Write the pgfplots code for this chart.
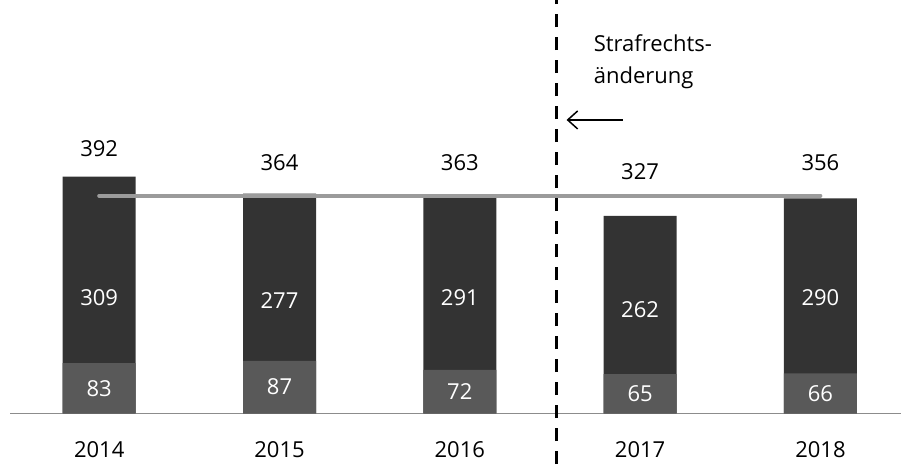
\documentclass[border=0pt]{standalone}
\usepackage{fontspec}
\setmainfont{Open Sans}
\usepackage{pgfplots}
\pgfplotsset{compat=1.18}
\usetikzlibrary{arrows.meta}
\definecolor{darkbar}{HTML}{333333}
\definecolor{lightbar}{HTML}{595959}
\definecolor{avgline}{HTML}{9B9B9B}
\definecolor{baseln}{HTML}{8C8C8C}
\begin{document}
\begin{tikzpicture}[font=\fontsize{22}{26}\selectfont]
\begin{axis}[
  scale only axis, width=891pt, height=413.3pt,
  xmin=-0.4947, xmax=4.447, ymin=0, ymax=684.7,
  axis y line=none, axis x line*=bottom,
  x axis line style={baseln, line width=1pt, -},
  xtick={0,1,2,3,4}, xticklabels={2014,2015,2016,2017,2018},
  major tick length=0pt,
  xticklabel style={anchor=center, yshift=-36.7pt, text=black},
  clip=false,
]
% totals (dark part visible above the lower segment)
\addplot[ybar, bar width=73pt, bar shift=0pt, fill=darkbar, draw=none]
  coordinates {(0,392) (1,364) (2,363) (3,327) (4,356)};
% lower segment
\addplot[ybar, bar width=73pt, bar shift=0pt, fill=lightbar, draw=none]
  coordinates {(0,83) (1,87) (2,72) (3,65) (4,66)};
% average line
\addplot[avgline, line width=4pt, line cap=round, mark=none]
  coordinates {(0,360.4) (4,360.4)};
% labels of totals
\addplot[draw=none, mark=none, nodes near coords, point meta=explicit symbolic,
  every node near coord/.append style={anchor=center, text=black, inner sep=0pt}]
  table[meta=lab] {
x y lab
0 437.9 392
1 415 364
2 415 363
3 399.8 327
4 415 356
};
% labels of upper segments
\addplot[draw=none, mark=none, nodes near coords, point meta=explicit symbolic,
  every node near coord/.append style={anchor=center, text=white, inner sep=0pt}]
  table[meta=lab] {
x y lab
0 191 309
1 186 277
2 191 291
3 171 262
4 191 290
};
% labels of lower segments
\addplot[draw=none, mark=none, nodes near coords, point meta=explicit symbolic,
  every node near coord/.append style={anchor=center, text=white, inner sep=0pt}]
  table[meta=lab] {
x y lab
0 41.5 83
1 43.5 87
2 36 72
3 32.5 65
4 33 66
};
% dashed separator
\addplot[black, line width=3pt, dash pattern=on 13pt off 10pt, mark=none]
  coordinates {(2.534,-84) (2.534,684.7)};
\draw[line width=1.5pt, -{Straight Barb[length=10pt, width=18pt]}]
  (axis cs:2.904,486) -- (axis cs:2.592,486);
\node[anchor=base west, inner sep=0pt] at (axis cs:2.742,598.6) {Strafrechts-};
\node[anchor=base west, inner sep=0pt] at (axis cs:2.742,545.6) {änderung};
\coordinate (ll) at (rel axis cs:0,0);
\coordinate (ur) at (rel axis cs:1,1);
\end{axis}
\pgfresetboundingbox
\useasboundingbox ([xshift=-10pt,yshift=-50.7pt]ll) rectangle (ur);
\end{tikzpicture}
\end{document}
